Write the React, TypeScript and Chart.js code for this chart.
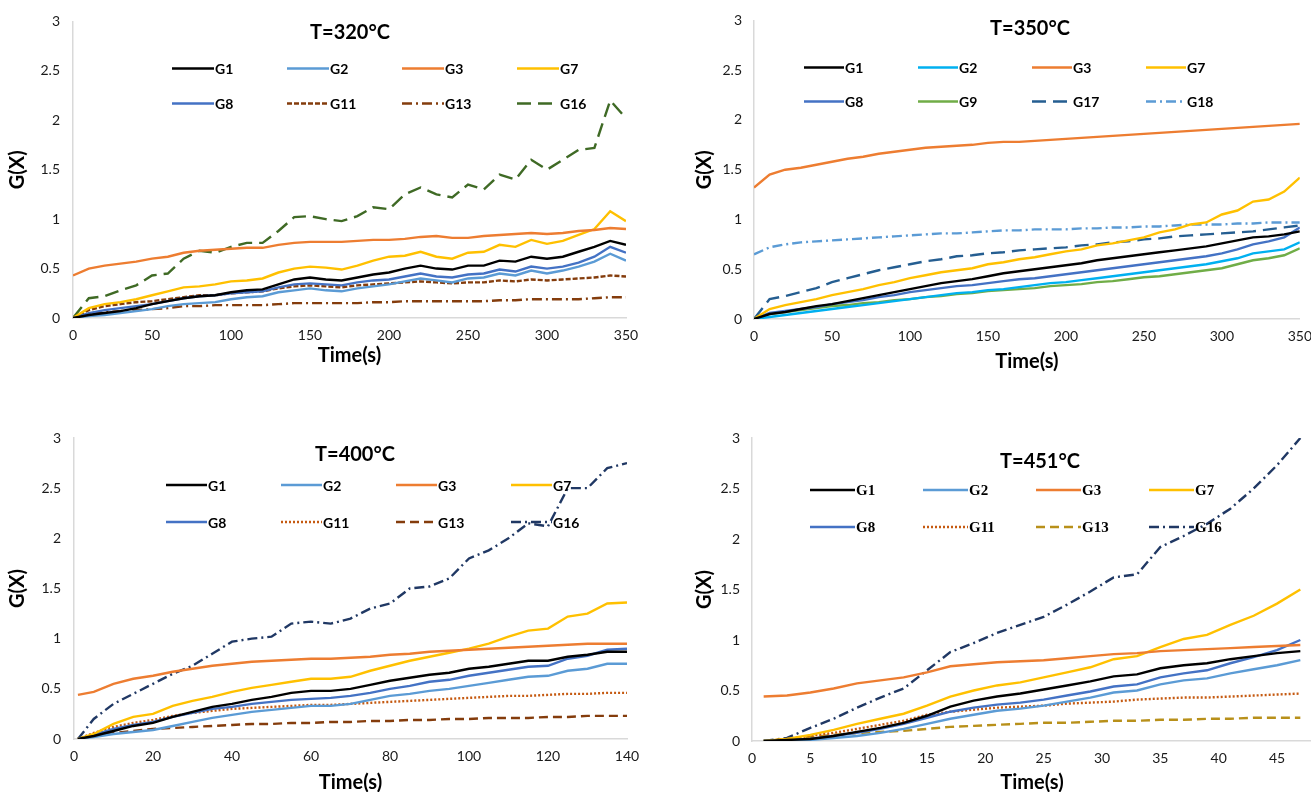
import React, { useEffect, useRef } from "react";
import { Chart, registerables } from "chart.js";

Chart.register(...registerables);

// ---------------- DATA ----------------
// T = 320 °C
const T320_TIME = [0, 10, 20, 30, 40, 50, 60, 70, 80, 90, 100, 110, 120, 130, 140, 150, 160, 170, 180, 190, 200, 210, 220, 230, 240, 250, 260, 270, 280, 290, 300, 310, 320, 330, 340, 350];
const T320_G1 = [0, 0.03, 0.05, 0.07, 0.10, 0.14, 0.17, 0.20, 0.22, 0.23, 0.26, 0.28, 0.29, 0.34, 0.39, 0.41, 0.39, 0.38, 0.41, 0.44, 0.46, 0.50, 0.53, 0.50, 0.49, 0.53, 0.53, 0.58, 0.57, 0.62, 0.60, 0.62, 0.67, 0.72, 0.78, 0.74];
const T320_G2 = [0, 0.02, 0.03, 0.05, 0.07, 0.09, 0.12, 0.14, 0.15, 0.16, 0.19, 0.21, 0.22, 0.26, 0.28, 0.30, 0.28, 0.27, 0.30, 0.32, 0.34, 0.37, 0.40, 0.38, 0.36, 0.40, 0.41, 0.45, 0.43, 0.48, 0.45, 0.48, 0.52, 0.57, 0.65, 0.58];
const T320_G3 = [0.43, 0.50, 0.53, 0.55, 0.57, 0.60, 0.62, 0.66, 0.68, 0.69, 0.70, 0.71, 0.71, 0.74, 0.76, 0.77, 0.77, 0.77, 0.78, 0.79, 0.79, 0.80, 0.82, 0.83, 0.81, 0.81, 0.83, 0.84, 0.85, 0.86, 0.85, 0.86, 0.88, 0.89, 0.91, 0.90];
const T320_G7 = [0, 0.10, 0.14, 0.16, 0.19, 0.23, 0.27, 0.31, 0.32, 0.34, 0.37, 0.38, 0.40, 0.46, 0.50, 0.52, 0.51, 0.49, 0.53, 0.58, 0.62, 0.63, 0.67, 0.62, 0.60, 0.66, 0.67, 0.74, 0.72, 0.79, 0.75, 0.78, 0.84, 0.90, 1.08, 0.98];
const T320_G8 = [0, 0.05, 0.08, 0.10, 0.12, 0.14, 0.17, 0.20, 0.22, 0.23, 0.25, 0.26, 0.27, 0.31, 0.34, 0.35, 0.34, 0.33, 0.36, 0.38, 0.39, 0.42, 0.45, 0.42, 0.41, 0.44, 0.45, 0.49, 0.47, 0.52, 0.50, 0.52, 0.56, 0.62, 0.72, 0.66];
const T320_G11 = [0, 0.08, 0.12, 0.14, 0.16, 0.17, 0.19, 0.21, 0.23, 0.23, 0.25, 0.26, 0.27, 0.30, 0.32, 0.33, 0.32, 0.31, 0.33, 0.34, 0.35, 0.36, 0.37, 0.36, 0.35, 0.36, 0.36, 0.38, 0.37, 0.39, 0.38, 0.39, 0.40, 0.41, 0.43, 0.42];
const T320_G13 = [0, 0.04, 0.06, 0.07, 0.08, 0.09, 0.10, 0.12, 0.12, 0.13, 0.13, 0.13, 0.13, 0.14, 0.15, 0.15, 0.15, 0.15, 0.15, 0.16, 0.16, 0.17, 0.17, 0.17, 0.17, 0.17, 0.17, 0.18, 0.18, 0.19, 0.19, 0.19, 0.19, 0.20, 0.21, 0.21];
const T320_G16 = [0, 0.20, 0.22, 0.28, 0.33, 0.43, 0.45, 0.60, 0.68, 0.66, 0.72, 0.76, 0.76, 0.88, 1.02, 1.03, 1.00, 0.98, 1.03, 1.12, 1.10, 1.25, 1.32, 1.25, 1.22, 1.35, 1.30, 1.45, 1.40, 1.60, 1.50, 1.60, 1.70, 1.72, 2.20, 2.02];

// T = 350 °C
const T350_TIME = [0, 10, 20, 30, 40, 50, 60, 70, 80, 90, 100, 110, 120, 130, 140, 150, 160, 170, 180, 190, 200, 210, 220, 230, 240, 250, 260, 270, 280, 290, 300, 310, 320, 330, 340, 350];
const T350_G1 = [0, 0.05, 0.07, 0.10, 0.13, 0.15, 0.18, 0.21, 0.24, 0.27, 0.30, 0.33, 0.36, 0.38, 0.40, 0.43, 0.46, 0.48, 0.50, 0.52, 0.54, 0.56, 0.59, 0.61, 0.63, 0.65, 0.67, 0.69, 0.71, 0.73, 0.76, 0.79, 0.82, 0.83, 0.85, 0.88];
const T350_G2 = [0, 0.02, 0.04, 0.06, 0.08, 0.10, 0.12, 0.14, 0.16, 0.18, 0.20, 0.22, 0.24, 0.26, 0.27, 0.29, 0.30, 0.32, 0.34, 0.36, 0.37, 0.39, 0.41, 0.43, 0.45, 0.47, 0.49, 0.51, 0.53, 0.55, 0.58, 0.61, 0.66, 0.68, 0.70, 0.77];
const T350_G3 = [1.32, 1.45, 1.50, 1.52, 1.55, 1.58, 1.61, 1.63, 1.66, 1.68, 1.70, 1.72, 1.73, 1.74, 1.75, 1.77, 1.78, 1.78, 1.79, 1.80, 1.81, 1.82, 1.83, 1.84, 1.85, 1.86, 1.87, 1.88, 1.89, 1.90, 1.91, 1.92, 1.93, 1.94, 1.95, 1.96];
const T350_G7 = [0, 0.10, 0.14, 0.17, 0.20, 0.24, 0.27, 0.30, 0.34, 0.37, 0.41, 0.44, 0.47, 0.49, 0.51, 0.55, 0.57, 0.60, 0.62, 0.65, 0.68, 0.70, 0.74, 0.76, 0.79, 0.82, 0.87, 0.90, 0.95, 0.97, 1.05, 1.09, 1.18, 1.20, 1.28, 1.42];
const T350_G8 = [0, 0.06, 0.08, 0.10, 0.12, 0.15, 0.17, 0.19, 0.22, 0.24, 0.27, 0.29, 0.31, 0.33, 0.34, 0.36, 0.38, 0.40, 0.41, 0.43, 0.45, 0.47, 0.49, 0.51, 0.53, 0.55, 0.57, 0.59, 0.61, 0.63, 0.66, 0.70, 0.75, 0.78, 0.82, 0.92];
const T350_G9 = [0, 0.05, 0.07, 0.09, 0.11, 0.13, 0.14, 0.16, 0.17, 0.19, 0.20, 0.22, 0.23, 0.25, 0.26, 0.28, 0.29, 0.30, 0.31, 0.33, 0.34, 0.35, 0.37, 0.38, 0.40, 0.42, 0.43, 0.45, 0.47, 0.49, 0.51, 0.55, 0.59, 0.61, 0.64, 0.71];
const T350_G17 = [0, 0.20, 0.23, 0.27, 0.31, 0.37, 0.41, 0.45, 0.49, 0.52, 0.55, 0.58, 0.60, 0.63, 0.64, 0.66, 0.67, 0.69, 0.70, 0.71, 0.72, 0.74, 0.75, 0.77, 0.78, 0.80, 0.81, 0.83, 0.84, 0.85, 0.86, 0.87, 0.88, 0.90, 0.92, 0.94];
const T350_G18 = [0.65, 0.72, 0.75, 0.77, 0.78, 0.79, 0.80, 0.81, 0.82, 0.83, 0.84, 0.85, 0.86, 0.86, 0.87, 0.88, 0.89, 0.89, 0.90, 0.90, 0.90, 0.91, 0.91, 0.92, 0.92, 0.93, 0.93, 0.94, 0.95, 0.95, 0.95, 0.96, 0.96, 0.97, 0.97, 0.97];

// T = 400 °C
const T400_TIME = [1, 5, 10, 15, 20, 25, 30, 35, 40, 45, 50, 55, 60, 65, 70, 75, 80, 85, 90, 95, 100, 105, 110, 115, 120, 125, 130, 135, 140];
const T400_G1 = [0, 0.03, 0.08, 0.13, 0.16, 0.22, 0.27, 0.32, 0.35, 0.39, 0.42, 0.46, 0.48, 0.48, 0.50, 0.54, 0.58, 0.61, 0.64, 0.66, 0.70, 0.72, 0.75, 0.78, 0.78, 0.82, 0.84, 0.87, 0.87];
const T400_G2 = [0, 0.02, 0.05, 0.07, 0.09, 0.13, 0.17, 0.21, 0.24, 0.27, 0.29, 0.31, 0.33, 0.33, 0.35, 0.39, 0.43, 0.45, 0.48, 0.50, 0.53, 0.56, 0.59, 0.62, 0.63, 0.68, 0.70, 0.75, 0.75];
const T400_G3 = [0.44, 0.47, 0.55, 0.60, 0.63, 0.67, 0.70, 0.73, 0.75, 0.77, 0.78, 0.79, 0.80, 0.80, 0.81, 0.82, 0.84, 0.85, 0.87, 0.88, 0.89, 0.90, 0.91, 0.92, 0.93, 0.94, 0.95, 0.95, 0.95];
const T400_G7 = [0, 0.05, 0.15, 0.22, 0.25, 0.33, 0.38, 0.42, 0.47, 0.51, 0.54, 0.57, 0.60, 0.60, 0.62, 0.68, 0.73, 0.78, 0.82, 0.86, 0.90, 0.95, 1.02, 1.08, 1.10, 1.22, 1.25, 1.35, 1.36];
const T400_G8 = [0, 0.04, 0.10, 0.14, 0.17, 0.22, 0.26, 0.30, 0.32, 0.35, 0.37, 0.39, 0.40, 0.41, 0.43, 0.46, 0.50, 0.53, 0.57, 0.59, 0.63, 0.66, 0.69, 0.72, 0.73, 0.80, 0.83, 0.89, 0.90];
const T400_G11 = [0, 0.06, 0.12, 0.16, 0.19, 0.23, 0.26, 0.28, 0.30, 0.31, 0.32, 0.33, 0.34, 0.34, 0.35, 0.36, 0.37, 0.38, 0.39, 0.40, 0.41, 0.42, 0.43, 0.43, 0.44, 0.45, 0.45, 0.46, 0.46];
const T400_G13 = [0, 0.03, 0.06, 0.08, 0.10, 0.11, 0.12, 0.13, 0.14, 0.15, 0.15, 0.16, 0.16, 0.17, 0.17, 0.18, 0.18, 0.19, 0.19, 0.20, 0.20, 0.21, 0.21, 0.21, 0.22, 0.22, 0.23, 0.23, 0.23];
const T400_G16 = [0, 0.20, 0.35, 0.45, 0.55, 0.65, 0.73, 0.85, 0.97, 1.00, 1.02, 1.15, 1.17, 1.15, 1.20, 1.30, 1.35, 1.50, 1.52, 1.60, 1.80, 1.88, 2.00, 2.15, 2.12, 2.50, 2.50, 2.70, 2.75];

// T = 451 °C
const T451_TIME = [1, 3, 5, 7, 9, 11, 13, 15, 17, 19, 21, 23, 25, 27, 29, 31, 33, 35, 37, 39, 41, 43, 45, 47];
const T451_G1 = [0, 0.01, 0.02, 0.05, 0.09, 0.13, 0.18, 0.25, 0.34, 0.40, 0.44, 0.47, 0.51, 0.55, 0.59, 0.64, 0.66, 0.72, 0.75, 0.77, 0.81, 0.84, 0.87, 0.89];
const T451_G2 = [0, 0, 0.01, 0.03, 0.05, 0.08, 0.12, 0.17, 0.22, 0.26, 0.30, 0.32, 0.35, 0.39, 0.43, 0.48, 0.50, 0.56, 0.60, 0.62, 0.67, 0.71, 0.75, 0.80];
const T451_G3 = [0.44, 0.45, 0.48, 0.52, 0.57, 0.60, 0.63, 0.68, 0.74, 0.76, 0.78, 0.79, 0.80, 0.82, 0.84, 0.86, 0.87, 0.89, 0.90, 0.91, 0.92, 0.93, 0.94, 0.95];
const T451_G7 = [0, 0.02, 0.06, 0.11, 0.17, 0.22, 0.27, 0.35, 0.44, 0.50, 0.55, 0.58, 0.63, 0.68, 0.73, 0.81, 0.84, 0.93, 1.01, 1.05, 1.15, 1.24, 1.36, 1.50];
const T451_G8 = [0, 0.01, 0.02, 0.05, 0.08, 0.12, 0.17, 0.23, 0.29, 0.33, 0.36, 0.38, 0.41, 0.45, 0.49, 0.54, 0.56, 0.63, 0.67, 0.70, 0.77, 0.83, 0.90, 1.00];
const T451_G11 = [0, 0.02, 0.05, 0.08, 0.12, 0.16, 0.20, 0.26, 0.29, 0.31, 0.33, 0.34, 0.35, 0.37, 0.38, 0.39, 0.41, 0.42, 0.43, 0.43, 0.44, 0.45, 0.46, 0.47];
const T451_G13 = [0, 0.02, 0.04, 0.06, 0.08, 0.09, 0.10, 0.12, 0.14, 0.15, 0.16, 0.17, 0.18, 0.18, 0.19, 0.20, 0.20, 0.21, 0.21, 0.22, 0.22, 0.23, 0.23, 0.23];
const T451_G16 = [0, 0.03, 0.13, 0.22, 0.33, 0.43, 0.52, 0.70, 0.88, 0.97, 1.07, 1.15, 1.23, 1.35, 1.48, 1.62, 1.65, 1.92, 2.03, 2.15, 2.30, 2.50, 2.73, 3.00];

const Y_MIN = 0;
const Y_MAX = 3;
const Y_STEP = 0.5;

// ---------------- STYLE / LAYOUT ----------------
type Series = { label: string; values: number[]; color: string; dash?: number[] };

type Panel = {
  title: string;
  time: number[];
  series: Series[];
  xMax: number;
  xStep: number;
  left: number;
  top: number;
  w: number;
  h: number;
  padTop: number;
  padRight: number;
  yW: number;
  xH: number;
  xTitlePad: number;
  xTickPad: number;
  yTickPad: number;
  lg: { titleX: number; titleY: number; x0: number; y0: number; colW: number; rowH: number; lineLen: number; labelFont: string };
};

const SANS = "Lato, 'Open Sans', sans-serif";
const SERIF = "'Liberation Serif', 'DejaVu Serif', serif";

const DASH_SHORT = [5, 2];
const DASH_LONG = [14, 7];
const DASH_MED = [9, 5];
const DASH_DOT = [10, 4, 2, 4];
const DOTS = [2, 2];

const PANELS: Panel[] = [
  {
    title: "T=320°C",
    time: T320_TIME,
    series: [
      { label: "G1", values: T320_G1, color: "#000000" },
      { label: "G2", values: T320_G2, color: "#5b9bd5" },
      { label: "G3", values: T320_G3, color: "#ed7d31" },
      { label: "G7", values: T320_G7, color: "#ffc000" },
      { label: "G8", values: T320_G8, color: "#4472c4" },
      { label: "G11", values: T320_G11, color: "#843c0c", dash: DASH_SHORT },
      { label: "G13", values: T320_G13, color: "#843c0c", dash: DASH_DOT },
      { label: "G16", values: T320_G16, color: "#3f6a25", dash: DASH_LONG },
    ],
    xMax: 350, xStep: 50,
    left: 0, top: 0, w: 655, h: 380, padTop: 19, padRight: 29, yW: 73, xH: 62, xTitlePad: 12, xTickPad: 9, yTickPad: 13,
    lg: { titleX: 277, titleY: 11, x0: 99, y0: 47, colW: 115, rowH: 35, lineLen: 42, labelFont: "bold 14px " + SANS },
  },
  {
    title: "T=350°C",
    time: T350_TIME,
    series: [
      { label: "G1", values: T350_G1, color: "#000000" },
      { label: "G2", values: T350_G2, color: "#00b0f0" },
      { label: "G3", values: T350_G3, color: "#ed7d31" },
      { label: "G7", values: T350_G7, color: "#ffc000" },
      { label: "G8", values: T350_G8, color: "#4472c4" },
      { label: "G9", values: T350_G9, color: "#70ad47" },
      { label: "G17", values: T350_G17, color: "#255e91", dash: DASH_LONG },
      { label: "G18", values: T350_G18, color: "#5b9bd5", dash: DASH_DOT },
    ],
    xMax: 350, xStep: 50,
    left: 687, top: 0, w: 634, h: 382, padTop: 20, padRight: 0, yW: 67, xH: 63, xTitlePad: 8, xTickPad: 9, yTickPad: 12,
    lg: { titleX: 276, titleY: 8, x0: 50, y0: 47, colW: 114, rowH: 34, lineLen: 40, labelFont: "bold 14px " + SANS },
  },
  {
    title: "T=400°C",
    time: T400_TIME,
    series: [
      { label: "G1", values: T400_G1, color: "#000000" },
      { label: "G2", values: T400_G2, color: "#5b9bd5" },
      { label: "G3", values: T400_G3, color: "#ed7d31" },
      { label: "G7", values: T400_G7, color: "#ffc000" },
      { label: "G8", values: T400_G8, color: "#4472c4" },
      { label: "G11", values: T400_G11, color: "#c55a11", dash: DOTS },
      { label: "G13", values: T400_G13, color: "#843c0c", dash: DASH_MED },
      { label: "G16", values: T400_G16, color: "#203864", dash: DASH_DOT },
    ],
    xMax: 140, xStep: 20,
    left: 0, top: 400, w: 655, h: 400, padTop: 38, padRight: 28, yW: 74, xH: 61, xTitlePad: 5, xTickPad: 9, yTickPad: 13,
    lg: { titleX: 281, titleY: 17, x0: 92, y0: 47, colW: 115, rowH: 37, lineLen: 41, labelFont: "bold 14px " + SANS },
  },
  {
    title: "T=451°C",
    time: T451_TIME,
    series: [
      { label: "G1", values: T451_G1, color: "#000000" },
      { label: "G2", values: T451_G2, color: "#5b9bd5" },
      { label: "G3", values: T451_G3, color: "#ed7d31" },
      { label: "G7", values: T451_G7, color: "#ffc000" },
      { label: "G8", values: T451_G8, color: "#4472c4" },
      { label: "G11", values: T451_G11, color: "#c55a11", dash: DOTS },
      { label: "G13", values: T451_G13, color: "#b8901a", dash: DASH_MED },
      { label: "G16", values: T451_G16, color: "#203864", dash: DASH_DOT },
    ],
    xMax: 48, xStep: 5,
    left: 687, top: 400, w: 630, h: 400, padTop: 38, padRight: 5, yW: 65, xH: 59, xTitlePad: 5, xTickPad: 9, yTickPad: 12,
    lg: { titleX: 288, titleY: 24, x0: 58, y0: 52, colW: 113, rowH: 37, lineLen: 45, labelFont: "bold 15px " + SERIF },
  },
];

// Draws the chart title and the 4x2 legend inside the plot area (as in the original).
const insideLegend = {
  id: "insideLegend",
  afterDraw(chart: any, _args: any, opts: any) {
    const { ctx, chartArea } = chart;
    if (!opts || !opts.titleText) return;
    ctx.save();
    ctx.font = "bold 20px " + SANS;
    ctx.fillStyle = "#000000";
    ctx.textAlign = "center";
    ctx.textBaseline = "middle";
    ctx.fillText(opts.titleText, chartArea.left + opts.titleX, chartArea.top + opts.titleY);
    ctx.font = opts.labelFont;
    ctx.textAlign = "left";
    chart.data.datasets.forEach((ds: any, i: number) => {
      const col = i % 4;
      const row = Math.floor(i / 4);
      const x = chartArea.left + opts.x0 + col * opts.colW;
      const y = chartArea.top + opts.y0 + row * opts.rowH;
      ctx.beginPath();
      ctx.setLineDash(ds.borderDash || []);
      ctx.lineCap = "butt";
      ctx.strokeStyle = ds.borderColor;
      ctx.lineWidth = 2.5;
      ctx.moveTo(x, y);
      ctx.lineTo(x + opts.lineLen, y);
      ctx.stroke();
      ctx.setLineDash([]);
      ctx.fillStyle = "#000000";
      ctx.fillText(ds.label, x + opts.lineLen + 1, y + 1);
    });
    ctx.restore();
  },
};

function buildConfig(p: Panel): any {
  return {
    type: "line",
    data: {
      datasets: p.series.map((s) => ({
        label: s.label,
        data: p.time.map((t, i) => ({ x: t, y: s.values[i] })),
        borderColor: s.color,
        backgroundColor: s.color,
        borderWidth: 2.4,
        borderDash: s.dash || [],
        pointRadius: 0,
        pointHoverRadius: 0,
        fill: false,
        tension: 0,
      })),
    },
    options: {
      animation: false,
      responsive: false,
      maintainAspectRatio: false,
      events: [],
      layout: { padding: { top: p.padTop, right: p.padRight, left: 0, bottom: 0 } },
      plugins: {
        legend: { display: false },
        title: { display: false },
        tooltip: { enabled: false },
        insideLegend: {
          titleText: p.title,
          titleX: p.lg.titleX,
          titleY: p.lg.titleY,
          x0: p.lg.x0,
          y0: p.lg.y0,
          colW: p.lg.colW,
          rowH: p.lg.rowH,
          lineLen: p.lg.lineLen,
          labelFont: p.lg.labelFont,
        },
      },
      scales: {
        x: {
          type: "linear",
          min: 0,
          max: p.xMax,
          grid: { display: false, drawTicks: false },
          border: { display: true, color: "#d9d9d9", width: 1.5 },
          ticks: {
            stepSize: p.xStep,
            includeBounds: false,
            autoSkip: false,
            maxRotation: 0,
            padding: p.xTickPad,
            color: "#1a1a1a",
            font: { family: SANS, size: 14 },
          },
          title: {
            display: true,
            text: "Time(s)",
            color: "#000000",
            font: { family: SANS, size: 20, weight: "bold" },
            padding: { top: 0, bottom: p.xTitlePad },
          },
          afterFit: (s: any) => {
            s.height = p.xH;
          },
        },
        y: {
          type: "linear",
          min: Y_MIN,
          max: Y_MAX,
          grid: { display: false, drawTicks: false },
          border: { display: true, color: "#d9d9d9", width: 1.5 },
          ticks: {
            stepSize: Y_STEP,
            padding: p.yTickPad,
            color: "#1a1a1a",
            font: { family: SANS, size: 14 },
            callback: (v: any) => String(Number(v)),
          },
          title: {
            display: true,
            text: "G(X)",
            color: "#000000",
            font: { family: SANS, size: 20, weight: "bold" },
            padding: { top: 6, bottom: 0 },
          },
          afterFit: (s: any) => {
            s.width = p.yW;
          },
        },
      },
    },
    plugins: [insideLegend],
  };
}

function ChartPanel({ p }: { p: Panel }) {
  const ref = useRef<HTMLCanvasElement | null>(null);
  useEffect(() => {
    if (!ref.current) return;
    const chart = new Chart(ref.current, buildConfig(p));
    return () => chart.destroy();
  }, [p]);
  return (
    <canvas
      ref={ref}
      width={p.w}
      height={p.h}
      style={{ position: "absolute", left: p.left, top: p.top, width: p.w, height: p.h, display: "block" }}
    />
  );
}

export default function App() {
  return (
    <div
      style={{
        position: "absolute",
        left: 0,
        top: 0,
        width: 1311,
        height: 792,
        overflow: "hidden",
        background: "#ffffff",
      }}
    >
      {PANELS.map((p) => (
        <ChartPanel key={p.title} p={p} />
      ))}
    </div>
  );
}
